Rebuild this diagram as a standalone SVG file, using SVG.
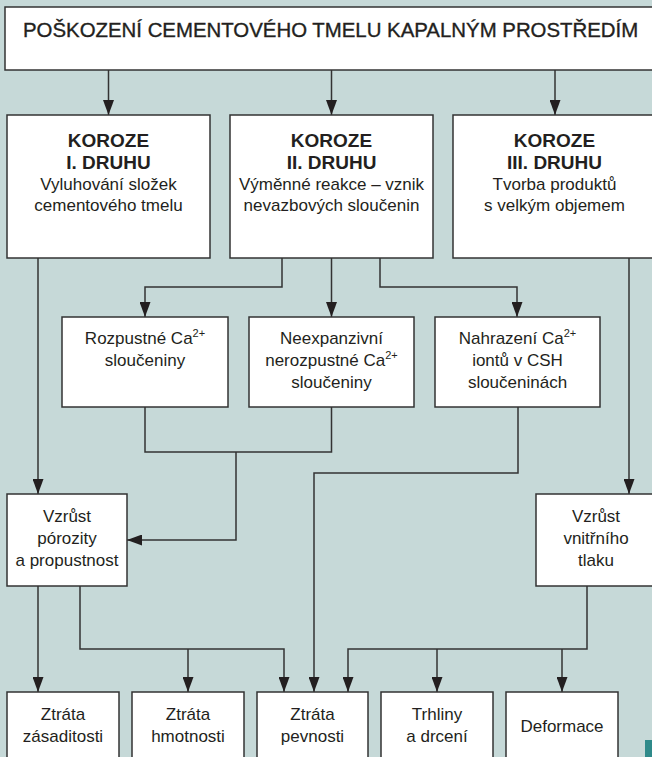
<svg xmlns="http://www.w3.org/2000/svg" width="652" height="757" viewBox="0 0 652 757">
<defs>
<style>
.bx{fill:#fff;stroke:#333;stroke-width:1.5}
.cn{fill:none;stroke:#333;stroke-width:1.5}
text{font-family:"Liberation Sans",Arial,sans-serif;fill:#231f20;text-anchor:middle}
.t{font-size:17px}
.h{font-size:19px;font-weight:bold}
.ttl{font-size:20.4px;text-anchor:start;stroke:#231f20;stroke-width:0.35}
.sup{font-size:11px}
</style>
<marker id="ah" viewBox="0 0 15 11" refX="15" refY="5.5" markerWidth="15" markerHeight="11" markerUnits="userSpaceOnUse" orient="auto">
<path d="M0,0 L15,5.5 L0,11 z" fill="#231f20"/>
</marker>
</defs>
<rect x="0" y="0" width="652" height="757" fill="#c6d9d8"/>

<g id="connectors" class="cn" marker-end="url(#ah)">
<path d="M108.5,70 V115"/>
<path d="M331.5,70 V115"/>
<path d="M555,70 V115"/>
<path d="M282,258 V287 H145 V317"/>
<path d="M331.5,258 V317"/>
<path d="M380,258 V287 H517 V317"/>
<path d="M38,258 V494"/>
<path d="M145,407 V452 H331.5 V407" marker-end="none"/>
<path d="M236,452 V540 H127"/>
<path d="M518,407 V473 H314 V692"/>
<path d="M629,258 V494"/>
<path d="M38,586 V692"/>
<path d="M80,586 V649 H284 V692"/>
<path d="M188,649 V692"/>
<path d="M587,586 V649 H348 V692"/>
<path d="M437,649 V692"/>
<path d="M562,649 V692"/>
</g>

<g id="n-title">
<rect class="bx" x="5" y="7" width="660" height="63"/>
<text class="ttl" x="23" y="37">POŠKOZENÍ CEMENTOVÉHO TMELU KAPALNÝM PROSTŘEDÍM</text>
</g>

<g id="n-k1">
<rect class="bx" x="7" y="115" width="203" height="143"/>
<text class="h" x="108.5" y="147">KOROZE</text>
<text class="h" x="108.5" y="169">I. DRUHU</text>
<text class="t" x="108.5" y="190">Vyluhování složek</text>
<text class="t" x="108.5" y="211">cementového tmelu</text>
</g>
<g id="n-k2">
<rect class="bx" x="230" y="115" width="203" height="143"/>
<text class="h" x="331.5" y="147">KOROZE</text>
<text class="h" x="331.5" y="169">II. DRUHU</text>
<text class="t" x="331.5" y="190">Výměnné reakce – vznik</text>
<text class="t" x="331.5" y="211">nevazbových sloučenin</text>
</g>
<g id="n-k3">
<rect class="bx" x="453" y="115" width="210" height="143"/>
<text class="h" x="554.5" y="147">KOROZE</text>
<text class="h" x="554.5" y="169">III. DRUHU</text>
<text class="t" x="554.5" y="190">Tvorba produktů</text>
<text class="t" x="554.5" y="211">s velkým objemem</text>
</g>

<g id="n-a">
<rect class="bx" x="62" y="317" width="166" height="90"/>
<text class="t" x="145" y="344">Rozpustné Ca<tspan class="sup" dy="-7">2+</tspan></text>
<text class="t" x="145" y="366">sloučeniny</text>
</g>
<g id="n-b">
<rect class="bx" x="249" y="317" width="165" height="90"/>
<text class="t" x="331.5" y="344">Neexpanzivní</text>
<text class="t" x="331.5" y="366">nerozpustné Ca<tspan class="sup" dy="-7">2+</tspan></text>
<text class="t" x="331.5" y="388">sloučeniny</text>
</g>
<g id="n-c">
<rect class="bx" x="435" y="317" width="165" height="90"/>
<text class="t" x="517.5" y="344">Nahrazení Ca<tspan class="sup" dy="-7">2+</tspan></text>
<text class="t" x="517.5" y="366">iontů v CSH</text>
<text class="t" x="517.5" y="388">sloučeninách</text>
</g>

<g id="n-por">
<rect class="bx" x="7" y="494" width="120" height="92"/>
<text class="t" x="67" y="522">Vzrůst</text>
<text class="t" x="67" y="544">pórozity</text>
<text class="t" x="67" y="566">a propustnost</text>
</g>
<g id="n-tlak">
<rect class="bx" x="536" y="494" width="125" height="92"/>
<text class="t" x="596" y="522">Vzrůst</text>
<text class="t" x="596" y="544">vnitřního</text>
<text class="t" x="596" y="566">tlaku</text>
</g>

<g id="n-zas">
<rect class="bx" x="7" y="692" width="112" height="80"/>
<text class="t" x="63" y="720">Ztráta</text>
<text class="t" x="63" y="742">zásaditosti</text>
</g>
<g id="n-hmo">
<rect class="bx" x="132" y="692" width="112" height="80"/>
<text class="t" x="188" y="720">Ztráta</text>
<text class="t" x="188" y="742">hmotnosti</text>
</g>
<g id="n-pev">
<rect class="bx" x="257" y="692" width="111" height="80"/>
<text class="t" x="312.5" y="720">Ztráta</text>
<text class="t" x="312.5" y="742">pevnosti</text>
</g>
<g id="n-trh">
<rect class="bx" x="381" y="692" width="112" height="80"/>
<text class="t" x="437" y="720">Trhliny</text>
<text class="t" x="437" y="742">a drcení</text>
</g>
<g id="n-def">
<rect class="bx" x="506" y="692" width="112" height="80"/>
<text class="t" x="562" y="732">Deformace</text>
</g>
<rect x="645" y="740" width="7" height="17" fill="#2f8a8a"/>
</svg>
